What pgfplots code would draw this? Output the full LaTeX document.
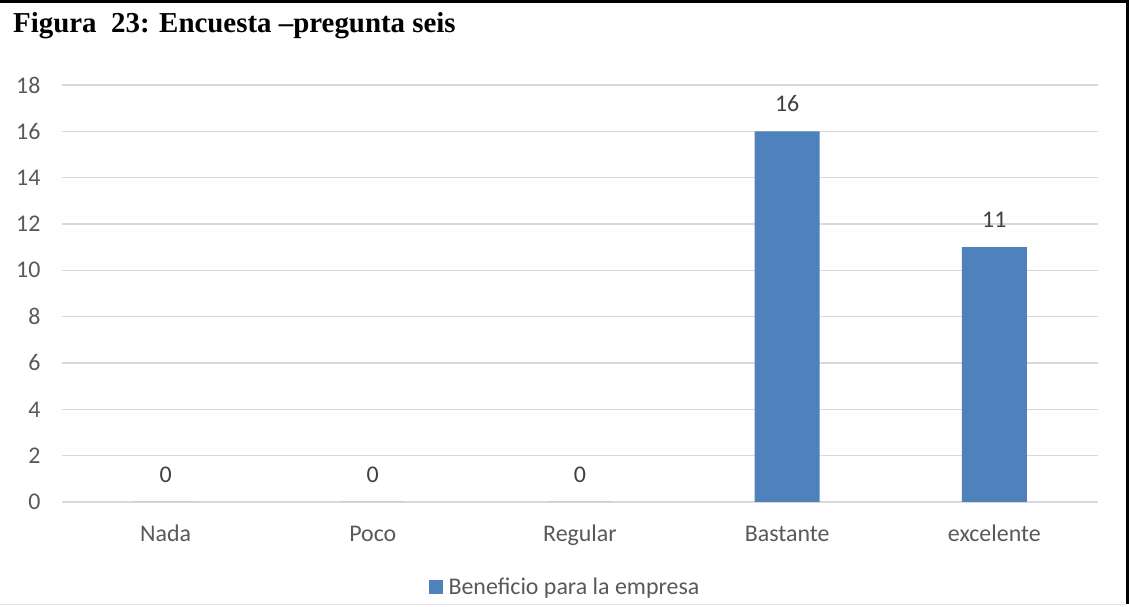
\documentclass[border=0pt]{standalone}
\usepackage{pgfplots}
\pgfplotsset{compat=1.18}
\usepackage{fontspec}
\setmainfont{Carlito}
\newfontfamily\titlefont{Liberation Serif}
\definecolor{barblue}{HTML}{4F81BD}
\definecolor{ticktext}{HTML}{595959}
\definecolor{labeltext}{HTML}{404040}
\definecolor{gridc}{HTML}{D9D9D9}
\begin{document}
\begin{tikzpicture}[x=1bp,y=1bp]
\path[use as bounding box] (0,0) rectangle (1129,607);
\fill[white] (0,0) rectangle (1129,607);
\draw[line width=3bp,black] (0,605.5) -- (1127.5,605.5) -- (1127.5,3);
\draw[line width=1bp,gridc!70] (0,2.5) -- (1126,2.5);
\node[anchor=base west,inner sep=0pt,font=\titlefont\bfseries\fontsize{29}{33}\selectfont] at (13,574) {Figura\ \ 23: Encuesta –pregunta seis};
\begin{axis}[
  at={(62bp,105bp)}, anchor=south west,
  scale only axis, width=1036bp, height=417bp,
  xmin=-0.5, xmax=4.5, ymin=0, ymax=18,
  ytick={0,2,...,18},
  xtick=data,
  xticklabels={Nada,Poco,Regular,Bastante,excelente},
  axis line style={draw=none},
  major tick length=0pt,
  ymajorgrids, major grid style={gridc,line width=1.4bp},
  tick label style={font=\fontsize{24}{28}\selectfont, text=ticktext},
  yticklabel style={xshift=-18bp},
  xticklabel style={anchor=base, yshift=-40bp},
  /pgf/number format/assume math mode=true,
  ybar, bar width=65bp,
  nodes near coords,
  every node near coord/.append style={font=\fontsize{24}{28}\selectfont, text=labeltext, yshift=16bp},
  legend style={at={(0.4855,-0.204)}, anchor=center, draw=none, fill=none,
    font=\fontsize{24}{28}\selectfont, text=ticktext},
  legend image code/.code={\fill[barblue] (0bp,-7bp) rectangle (14bp,7bp);},
]
\addplot[fill=barblue, draw=none] coordinates {(0,0) (1,0) (2,0) (3,16) (4,11)};
\addlegendentry{\hspace{4bp}Beneficio para la empresa}
\end{axis}
\end{tikzpicture}
\end{document}
